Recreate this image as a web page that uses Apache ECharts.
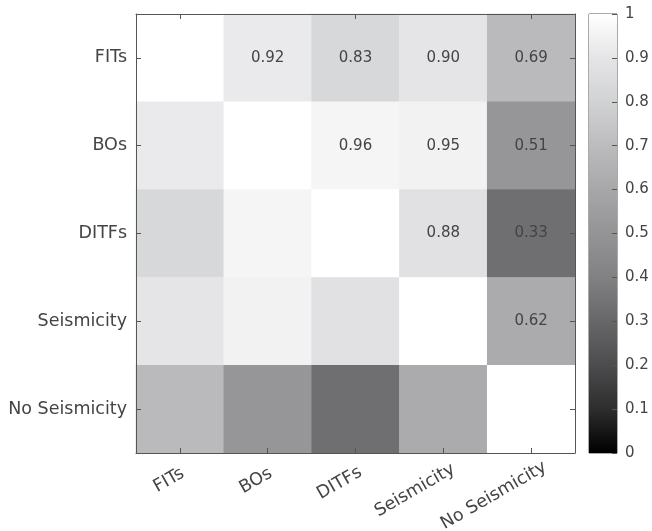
<!DOCTYPE html>
<html>
<head>
<meta charset="utf-8">
<script src="https://cdn.jsdelivr.net/npm/echarts@6/dist/echarts.min.js"></script>
<style>html,body{margin:0;padding:0;background:#fff}#c{width:652px;height:531px}</style>
</head>
<body>
<div id="c"></div>
<script>
const categories = ['FITs', 'BOs', 'DITFs', 'Seismicity', 'No Seismicity'];
const rowFITs = [1.00, 0.92, 0.83, 0.90, 0.69];
const rowBOs = [0.92, 1.00, 0.96, 0.95, 0.51];
const rowDITFs = [0.83, 0.96, 1.00, 0.88, 0.33];
const rowSeismicity = [0.90, 0.95, 0.88, 1.00, 0.62];
const rowNoSeismicity = [0.69, 0.51, 0.33, 0.62, 1.00];
const rows = [rowFITs, rowBOs, rowDITFs, rowSeismicity, rowNoSeismicity];
const colorbarMin = 0, colorbarMax = 1, colorbarStep = 0.1;

// gray colormap (0 -> black, 1 -> white), 11 evenly spaced stops
const grayColors = ['#000000', '#2d2d2e', '#4c4c4e', '#67676a', '#818184', '#949497',
  '#a7a7aa', '#bcbcbf', '#d1d2d4', '#e5e5e7', '#ffffff'];

const heatData = [];
rows.forEach((r, i) => r.forEach((v, j) => heatData.push([j, i, v])));

const txt = '#444444';
const axisCol = '#555555';
const font = 'DejaVu Sans';
const labelSize = 17.5;

const gradStops = grayColors.map((c, k) => ({ offset: k / (grayColors.length - 1), color: c }));

// rotated x labels: shift each label along its direction in proportion to its length
const ctx = document.createElement('canvas').getContext('2d');
ctx.font = labelSize + 'px "' + font + '"';
const xRich = {};
categories.forEach((c, i) => {
  const w = ctx.measureText(c).width;
  const s = Math.max(0, 0.15 * w - 1.5);
  xRich['l' + i] = { color: txt, fontSize: labelSize, fontFamily: font, padding: [0, -s, 0, 0] };
});

const tickStyle = { show: true, inside: true, alignWithLabel: true, length: 5, lineStyle: { color: axisCol } };

const chart = echarts.init(document.getElementById('c'), null, { renderer: 'canvas' });
chart.setOption({
  backgroundColor: '#ffffff',
  animation: false,
  textStyle: { fontFamily: font },
  grid: [
    { left: 136, top: 14, width: 439, height: 439, show: false, containLabel: false, outerBoundsMode: 'none' },
    { left: 589, top: 14, width: 28, height: 439, show: true, borderColor: axisCol, borderWidth: 1,
      backgroundColor: 'transparent', containLabel: false, outerBoundsMode: 'none' }
  ],
  xAxis: [
    { type: 'category', gridIndex: 0, data: categories, position: 'bottom', z: 10,
      axisLine: { show: true, lineStyle: { color: axisCol } }, splitLine: { show: false },
      axisTick: tickStyle,
      axisLabel: { rotate: 30, margin: 21, color: txt, fontSize: labelSize, fontFamily: font,
        formatter: (v, i) => '{l' + i + '|' + v + '}', rich: xRich } },
    { type: 'category', gridIndex: 0, data: categories, position: 'top', z: 10,
      axisLine: { show: true, lineStyle: { color: axisCol } }, splitLine: { show: false },
      axisTick: tickStyle,
      axisLabel: { show: false } },
    { type: 'category', gridIndex: 1, data: [''],
      axisLine: { show: false }, axisTick: { show: false }, axisLabel: { show: false }, splitLine: { show: false } }
  ],
  yAxis: [
    { type: 'category', gridIndex: 0, data: categories, inverse: true, position: 'left', z: 10,
      axisLine: { show: true, lineStyle: { color: axisCol } }, splitLine: { show: false },
      axisTick: tickStyle,
      axisLabel: { margin: 9, color: txt, fontSize: labelSize, fontFamily: font } },
    { type: 'category', gridIndex: 0, data: categories, inverse: true, position: 'right', z: 10,
      axisLine: { show: true, lineStyle: { color: axisCol } }, splitLine: { show: false },
      axisTick: tickStyle,
      axisLabel: { show: false } },
    { type: 'value', gridIndex: 1, min: colorbarMin, max: colorbarMax, interval: colorbarStep, position: 'right', z: 10,
      axisLine: { show: false }, splitLine: { show: false },
      axisTick: { show: true, inside: true, length: 5, lineStyle: { color: axisCol } },
      axisLabel: { margin: 8, color: txt, fontSize: 15, fontFamily: font } }
  ],
  visualMap: {
    type: 'continuous', min: colorbarMin, max: colorbarMax, show: false, seriesIndex: 0,
    inRange: { color: grayColors }
  },
  series: [
    { type: 'heatmap', xAxisIndex: 0, yAxisIndex: 0, data: heatData,
      label: { show: true, color: txt, fontSize: 15, fontFamily: font,
        formatter: p => (p.data[0] > p.data[1] ? p.data[2].toFixed(2) : '') },
      itemStyle: { borderWidth: 0 },
      emphasis: { disabled: true } },
    { type: 'bar', xAxisIndex: 2, yAxisIndex: 2, data: [colorbarMax], barWidth: '100%', silent: true,
      itemStyle: { color: { type: 'linear', x: 0, y: 1, x2: 0, y2: 0, colorStops: gradStops } } }
  ]
});
</script>
</body>
</html>
